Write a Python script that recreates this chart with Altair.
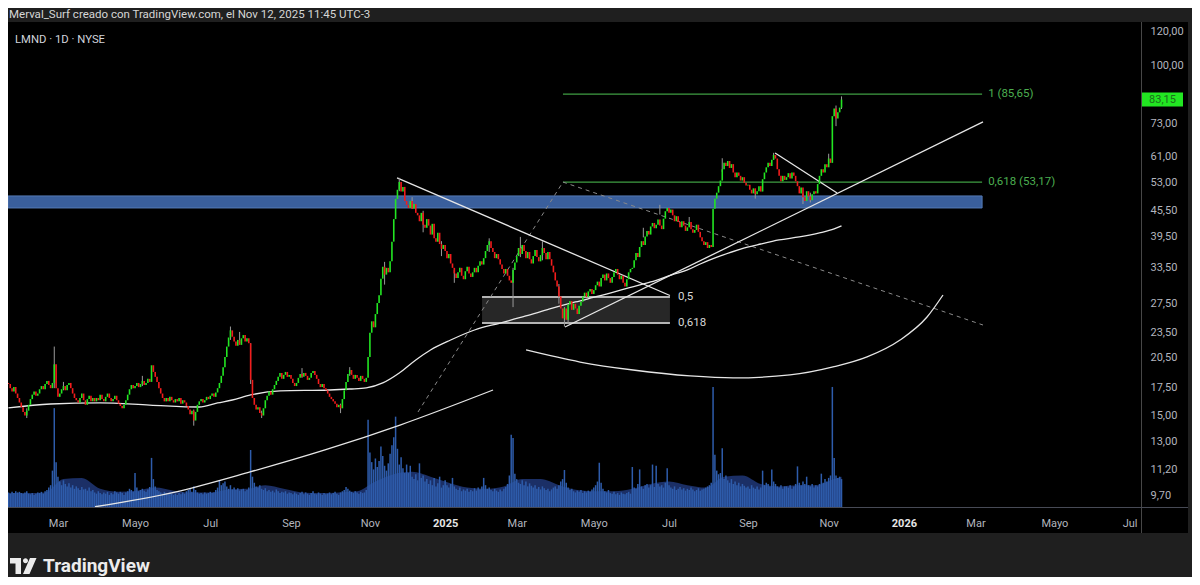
import altair as alt
import pandas as pd
import numpy as np

# ---------------- data ----------------
FIRST_SESSION = "2024-01-23"
CALENDAR_END = "2026-08-31"
NYSE_HOLIDAYS = ["2024-02-19", "2024-03-29", "2024-05-27", "2024-06-19", "2024-07-04",
                 "2024-09-02", "2024-11-28", "2024-12-25", "2025-01-01", "2025-01-09",
                 "2025-01-20", "2025-02-17", "2025-04-18", "2025-05-26", "2025-06-19",
                 "2025-07-04", "2025-09-01", "2025-11-27", "2025-12-25", "2026-01-01",
                 "2026-01-19", "2026-02-16", "2026-04-03", "2026-05-25", "2026-06-19",
                 "2026-07-03"]
MONTH_NAMES = {3: "Mar", 5: "Mayo", 7: "Jul", 9: "Sep", 11: "Nov"}

FIRST_OPEN = 17.9
close_2024 = [
    17.8, 17.4, 17.1, 17.5, 16.9, 16.5, 16.1,  # Jan
    15.7, 15.3, 15.0, 15.4, 15.9, 16.4, 16.8, 17.1, 16.7, 16.9, 17.3, 17.6, 17.3, 17.8, 18.1, 17.7, 17.4, 17.9, 19.8, 17.4,  # Feb
    16.6, 16.9, 17.3, 17.6, 17.2, 17.7, 17.9, 17.4, 16.9, 16.5, 16.3, 16.1, 16.5, 16.9, 16.3, 15.9, 16.4, 16.7, 16.2, 16.5,  # Mar
    16.2, 16.5, 16.3, 16.8, 16.4, 16.2, 16.6, 16.9, 16.5, 16.2, 16.4, 16.7, 16.3, 16.0, 15.8, 15.6, 15.9, 16.3, 16.8, 17.3, 17.7, 17.4,  # Apr
    17.6, 17.9, 17.5, 17.8, 18.1, 17.7, 17.9, 18.3, 18.0, 19.7, 19.0, 18.5, 18.0, 17.4, 16.9, 16.5, 16.2, 16.5, 16.2, 16.6, 16.3, 16.1,  # May
    16.4, 16.2, 16.5, 16.0, 16.3, 16.1, 15.8, 15.5, 15.1, 15.4, 14.6, 15.3, 15.9, 16.2, 16.4, 16.1, 16.3, 16.6, 16.4,  # Jun
    16.7, 16.9, 16.6, 17.0, 17.4, 17.9, 18.6, 19.5, 20.6, 21.8, 22.9, 23.8, 23.0, 22.4, 21.9, 22.6, 22.0, 22.8, 23.2, 22.4, 22.8, 22.2,  # Jul
    18.2, 16.5, 15.9, 15.5, 15.7, 15.2, 15.0, 15.6, 16.3, 16.7, 17.1, 16.8, 17.3, 17.7, 18.1, 18.5, 18.9, 18.3, 18.7, 19.0, 18.5, 18.7,  # Aug
    18.3, 17.9, 17.6, 17.9, 18.4, 18.8, 18.5, 18.9, 18.6, 18.2, 18.4, 18.9, 19.1, 18.7, 18.3, 17.8, 17.5, 17.8, 17.4, 17.2,  # Sep
    16.9, 16.6, 16.4, 16.2, 16.0, 15.7, 15.9, 15.6, 16.4, 17.2, 18.0, 18.8, 19.2, 18.7, 18.3, 18.7, 18.4, 18.1, 18.6, 18.3, 18.0, 18.4, 20.6,  # Oct
    23.5, 25.0, 24.2, 26.0, 27.6, 28.8, 31.5, 33.6, 32.2, 33.4, 32.6, 34.6, 38.5, 43.5, 48.5, 51.0, 53.2, 50.5, 51.8, 48.0,  # Nov
    47.0, 46.2, 48.0, 46.0, 47.2, 45.0, 44.4, 43.0, 45.0, 42.2, 41.5, 43.5, 42.0, 40.0, 42.4, 39.2, 38.5, 40.4, 38.0, 37.0, 37.8,  # Dec
]
close_2025 = [
    36.6, 35.2, 36.0, 34.2, 33.4, 32.4, 31.6, 32.6, 33.4, 32.0, 31.4, 32.8, 33.6, 32.4, 31.8, 32.6, 33.4, 32.6, 33.8, 34.6,  # Jan
    34.0, 35.2, 36.6, 37.8, 38.6, 37.2, 36.4, 35.2, 36.0, 35.0, 34.0, 33.2, 32.4, 33.2, 32.0, 31.2, 30.8, 33.0, 34.4,  # Feb
    35.6, 37.2, 36.0, 37.8, 36.6, 35.2, 36.4, 35.0, 34.2, 35.6, 36.8, 35.4, 34.6, 35.8, 37.2, 36.2, 35.0, 36.4, 35.0, 33.8, 32.6,  # Mar
    31.2, 30.2, 28.6, 26.8, 25.4, 26.8, 25.2, 27.4, 27.9, 26.6, 27.5, 26.8, 26.0, 27.2, 27.8, 28.6, 29.2, 28.5, 29.4, 29.8, 29.0,  # Apr
    29.6, 30.4, 31.0, 30.2, 31.6, 32.2, 31.2, 32.4, 31.6, 30.8, 31.8, 32.6, 33.2, 32.2, 31.4, 32.0, 30.8, 30.2, 31.4, 32.6, 33.2,  # May
    33.4, 34.8, 36.2, 35.4, 37.4, 38.6, 37.8, 39.6, 40.8, 40.0, 41.8, 42.6, 41.4, 42.2, 43.4, 42.0, 41.2, 43.6, 45.4, 46.2,  # Jun
    45.0, 45.8, 44.4, 43.0, 44.2, 42.8, 41.6, 43.0, 42.0, 40.8, 41.6, 42.8, 41.2, 40.4, 41.0, 42.2, 40.6, 39.4, 38.6, 37.8, 38.4, 37.2,  # Jul
    37.8, 37.4, 46.0, 48.6, 50.2, 52.0, 53.6, 57.0, 59.0, 58.0, 59.6, 57.4, 58.6, 56.0, 54.6, 56.0, 55.0, 53.6, 54.6, 53.0, 52.2,  # Aug
    52.4, 51.0, 50.0, 51.4, 49.8, 50.6, 52.0, 50.5, 54.0, 56.0, 57.6, 59.0, 58.0, 60.0, 61.6, 60.4, 57.0, 55.0, 53.4, 55.0, 53.8,  # Sep
    54.6, 55.8, 54.2, 56.0, 55.0, 53.4, 52.0, 50.0, 51.6, 49.0, 48.0, 50.6, 49.2, 48.2, 49.8, 50.6, 50.0, 52.6, 55.0, 57.0, 56.0, 58.6, 57.6,  # Oct
    60.4, 59.0, 76.0, 79.2, 75.0, 77.6, 79.6, 83.15,  # Nov
]
volume_2024 = [
    2.4, 2.2, 2.5, 2.3, 2.6, 2.4, 2.5,
    2.3, 2.2, 2.4, 2.6, 2.2, 2.1, 2.3, 2.0, 2.2, 2.4, 2.3, 2.5, 2.2, 2.6, 2.8, 3.2, 3.6, 6.0, 16.3, 7.4,
    5.0, 4.2, 3.6, 4.4, 3.8, 3.4, 3.9, 3.2, 3.6, 3.0, 3.4, 3.1, 2.8, 3.3, 2.9, 3.0, 2.7, 3.2, 2.6, 2.8,
    2.4, 2.2, 2.6, 2.3, 2.1, 2.4, 2.2, 2.5, 2.0, 2.3, 2.1, 2.6, 2.4, 2.2, 2.5, 2.3, 2.0, 2.4, 2.6, 3.0, 2.8, 2.5,
    5.6, 3.2, 2.6, 2.8, 3.0, 2.7, 2.5, 2.9, 3.3, 8.1, 4.6, 3.4, 2.8, 2.6, 2.4, 2.2, 2.5, 2.3, 2.1, 2.4, 2.2, 2.0,
    2.2, 2.0, 2.3, 2.1, 2.4, 2.2, 2.6, 2.8, 3.0, 2.5, 3.4, 2.8, 2.4, 2.2, 2.3, 2.1, 2.4, 2.2, 2.3,
    2.5, 2.3, 2.4, 2.8, 3.2, 4.4, 3.6, 3.9, 4.2, 3.4, 3.0, 3.6, 2.9, 3.2, 2.8, 3.1, 2.7, 2.9, 3.0, 2.6, 2.8, 3.2,
    9.4, 5.0, 4.0, 3.4, 3.2, 3.6, 3.0, 2.8, 3.1, 2.6, 2.8, 2.5, 2.7, 2.4, 2.9, 2.6, 2.3, 2.5, 2.4, 2.6, 2.2, 2.4,
    2.3, 2.1, 2.4, 2.2, 2.0, 2.3, 2.5, 2.1, 2.4, 2.2, 2.0, 2.3, 2.6, 2.2, 2.1, 2.4, 2.2, 2.0, 2.3, 2.1,
    2.2, 2.4, 2.1, 2.3, 2.5, 2.2, 2.0, 2.4, 2.6, 2.8, 3.3, 3.0, 2.7, 2.5, 2.3, 2.6, 2.4, 2.2, 2.5, 2.3, 2.4, 2.8, 14.4,
    9.0, 7.4, 6.2, 8.0, 6.6, 7.6, 10.0, 8.4, 6.8, 6.0, 7.2, 8.8, 10.2, 11.5, 14.9, 9.6, 7.0, 8.2, 6.4, 5.6,
    7.0, 5.6, 6.8, 5.0, 4.6, 5.4, 4.4, 7.2, 4.8, 5.2, 4.2, 4.6, 3.8, 4.4, 3.6, 4.8, 3.4, 3.9, 5.0, 3.2, 3.6,
]
volume_2025 = [
    4.4, 3.6, 3.2, 3.8, 4.8, 3.4, 3.0, 2.8, 3.2, 2.6, 2.9, 2.7, 3.0, 2.5, 2.8, 2.6, 3.1, 2.7, 3.2, 2.9,
    3.4, 4.8, 3.6, 3.0, 3.2, 2.8, 2.6, 3.0, 2.7, 2.5, 2.9, 2.6, 3.0, 3.3, 3.8, 5.2, 11.9, 11.4, 5.5,
    4.6, 4.0, 3.8, 4.4, 3.6, 4.2, 3.4, 3.9, 3.5, 3.2, 3.6, 3.0, 3.3, 2.9, 3.4, 3.1, 2.8, 3.0, 2.6, 2.9, 3.2,
    3.4, 3.0, 3.6, 4.2, 4.6, 6.1, 4.0, 3.2, 2.8, 3.0, 2.6, 2.4, 2.7, 2.5, 2.8, 2.3, 2.6, 2.4, 2.7, 2.5, 2.9,
    3.2, 3.6, 4.2, 7.3, 4.0, 3.0, 2.6, 2.4, 2.8, 2.3, 2.2, 2.5, 2.1, 2.3, 2.0, 2.4, 2.2, 2.1, 2.3, 2.5, 2.2,
    6.6, 3.2, 3.0, 3.8, 6.2, 3.4, 3.0, 3.6, 3.8, 3.2, 3.6, 7.0, 3.3, 6.8, 3.8, 3.4, 3.6, 3.2, 4.0, 6.4,
    3.6, 3.2, 3.0, 3.4, 2.8, 3.0, 3.3, 2.9, 3.1, 2.7, 3.0, 2.8, 3.2, 2.9, 2.6, 2.8, 3.1, 2.7, 2.9, 3.0, 3.2, 3.4,
    3.6, 4.0, 19.8, 8.6, 6.0, 5.4, 5.6, 9.7, 4.6, 5.2, 4.4, 4.0, 4.6, 3.8, 4.2, 3.6, 4.0, 3.4, 3.8, 3.5, 3.2,
    3.4, 3.0, 3.6, 3.2, 3.0, 3.4, 2.9, 3.2, 6.0, 3.6, 4.0, 3.8, 3.4, 6.2, 4.2, 3.8, 3.4, 3.2, 3.6, 3.0, 3.4,
    3.4, 3.2, 3.6, 3.0, 3.4, 3.8, 6.7, 4.0, 3.6, 4.2, 3.8, 5.0, 3.6, 3.4, 3.8, 3.2, 3.6, 3.4, 3.8, 5.5, 4.0, 4.6, 4.2,
    4.8, 5.2, 19.8, 8.1, 5.2, 4.8, 5.0, 4.6,
]
# notable wicks (bar number, low, high)
wick_bar = [10, 25, 30, 73, 101, 121, 126, 132, 138, 160, 181, 186, 205, 213, 220, 226, 236, 243,
            262, 275, 279, 291, 300, 303, 305, 346, 355, 371, 389, 407, 417, 433, 437, 447, 451, 454]
wick_low = [14.8, 17.4, 17.2, 17.6, 14.2, 22.6, 22.2, 17.8, 14.8, 18.4, 15.2, 18.6, 30.5, 50.6, 46.0,
            40.5, 35.6, 30.8, 36.4, 27.0, 35.4, 34.8, 27.5, 24.3, 24.6, 39.4, 44.6, 42.0, 56.2, 48.6,
            60.0, 47.2, 47.6, 58.8, 72.0, 79.0]
wick_high = [15.6, 21.8, 18.0, 18.6, 15.5, 24.3, 23.6, 22.2, 15.4, 19.4, 16.0, 19.5, 34.5, 54.4, 49.0,
             45.5, 38.6, 33.0, 39.2, 33.4, 39.5, 38.6, 30.6, 27.0, 26.6, 41.5, 47.0, 44.0, 60.5, 51.2,
             62.3, 50.0, 50.2, 62.0, 80.5, 84.6]

# volume moving average (bar number, value)
vol_ma_bar = [0, 10, 20, 30, 40, 50, 60, 70, 80, 90, 100, 110, 120, 130, 140, 150, 160, 170, 180, 190,
              200, 210, 220, 230, 240, 250, 260, 270, 280, 290, 300, 310, 320, 330, 340, 350, 360, 370,
              380, 390, 400, 410, 420, 430, 440, 450, 454]
vol_ma_val = [2.3, 2.3, 2.4, 4.6, 4.8, 3.0, 2.5, 2.7, 3.2, 2.7, 2.4, 2.4, 2.9, 3.0, 3.6, 3.0, 2.4, 2.3, 2.4, 2.6,
              4.2, 5.4, 5.8, 5.0, 4.0, 3.2, 3.0, 3.4, 4.6, 4.6, 3.6, 2.8, 2.6, 2.6, 3.0, 3.8, 4.2, 3.6,
              3.2, 5.0, 5.2, 3.8, 3.4, 3.6, 3.6, 4.6, 5.0]

# price moving average (bar number, price)
ma_bar = [0, 23, 50, 77, 104, 114, 122, 132, 148, 175, 186, 195, 204, 213, 222, 230, 241, 254, 268, 282,
          295, 309, 322, 336, 350, 363, 370, 377, 388, 399, 410, 420, 431, 442, 450, 454]
ma_val = [15.63, 15.97, 16.06, 15.88, 15.71, 16.06, 16.32, 16.77, 17.14, 17.23, 17.32, 17.42, 17.90, 18.89,
          20.27, 21.40, 22.59, 23.85, 24.77, 25.73, 26.73, 27.76, 28.68, 29.79, 30.94, 32.31, 33.02, 34.11,
          35.63, 36.99, 38.01, 38.85, 39.49, 40.36, 41.24, 41.92]

# drawings (bar number, price)
trend_lines = {
    "nov24_top": ([211.8, 360.5], [54.4, 28.75]),
    "apr25_low": ([303.3, 531.1], [24.24, 73.65]),
    "sep25_top": ([417.8, 451.6], [62.25, 50.13]),
}
curve_lines = {
    "rising_arc": ([47.2, 90.8, 131.7, 172.5, 213.4, 264.1], [9.15, 9.91, 11.05, 12.45, 14.25, 17.23]),
    "bowl_arc": ([282.1, 311.5, 340.4, 371.5, 394.9, 425.9, 449.4, 467.9, 485.9, 500.6, 509.3],
                 [21.40, 20.05, 19.20, 18.59, 18.39, 18.69, 19.52, 20.61, 22.59, 25.59, 28.83]),
}
dashed_lines = {
    "fib_leg1": ([223.2, 302.2], [15.29, 53.17]),
    "fib_leg2": ([302.2, 531.1], [53.17, 24.50]),
}
fib_levels = [85.65, 53.17]
fib_labels = ["1 (85,65)", "0,618 (53,17)"]
fib_span = [302.2, 530.6]
fib_label_bar = 533.9

box_levels = [28.52, 24.77]
box_labels = ["0,5", "0,618"]
box_span = [258.1, 360.5]
box_label_bar = 364.9

zone_span = [-0.2, 530.6]
zone_prices = [46.21, 49.32]

price_ticks = [120, 100, 73, 61, 53, 45.5, 39.5, 33.5, 27.5, 23.5, 20.5, 17.5, 15, 13, 11.2, 9.7]
last_price = 83.15
last_price_text = "83,15"

header_text = "Merval_Surf creado con TradingView.com, el Nov 12, 2025 11:45 UTC-3"
ticker_text = "LMND · 1D · NYSE"
brand_text = "TradingView"

# ---------------- build tables ----------------
close = close_2024 + close_2025
volume = volume_2024 + volume_2025
n = min(len(close), len(volume))
close = close[:n]
opens = [FIRST_OPEN] + close[:-1]
candles = pd.DataFrame({"bar": range(n), "open": opens, "close": close, "vol": volume[:n]})
candles["dir"] = np.where(candles["close"] >= candles["open"], "up", "down")

sessions = pd.bdate_range(FIRST_SESSION, CALENDAR_END, freq="C", holidays=NYSE_HOLIDAYS)
cal = pd.DataFrame({"d": sessions, "bar": range(len(sessions))})
ticks = []
for (yr, mo), g in cal.groupby([cal.d.dt.year, cal.d.dt.month]):
    first = g.iloc[0]
    if first.d.day > 7:
        continue
    if mo == 1:
        ticks.append((int(first.bar), str(yr), True))
    elif mo in MONTH_NAMES:
        ticks.append((int(first.bar), MONTH_NAMES[mo], False))

XDOM = [-0.22, 617.2]
ticks = [t for t in ticks if XDOM[0] <= t[0] <= XDOM[1]]
label_expr = "''"
for b, lab, _ in reversed(ticks):
    label_expr = f"datum.value == {b} ? '{lab}' : {label_expr}"
year_test = " || ".join(f"datum.value == {b}" for b, _, y in ticks if y) or "false"

FONT = "Roboto"
xscale = alt.Scale(domain=XDOM, nice=False, zero=False, padding=0)
yscale = alt.Scale(type="log", domain=[9.138, 126.6], nice=False, padding=0)
vscale = alt.Scale(domain=[0, 80], nice=False, zero=True, padding=0)

xaxis = alt.Axis(values=[t[0] for t in ticks], labelExpr=label_expr, grid=False, ticks=False,
                 domain=False, title=None, labelFont=FONT, labelFontSize=11, labelPadding=10,
                 labelColor={"condition": {"test": year_test, "value": "#e6e6e6"}, "value": "#b2b5be"},
                 labelFontWeight={"condition": {"test": year_test, "value": "bold"}, "value": "normal"},
                 labelOverlap=False, zindex=2)
yaxis = alt.Axis(orient="right", values=price_ticks,
                 labelExpr="replace(format(datum.value, '.2f'), '.', ',')",
                 grid=False, ticks=False, domain=False, title=None, labelFont=FONT,
                 labelFontSize=11, labelColor="#b2b5be", labelPadding=9, labelOverlap=False,
                 labelBound=False, zindex=2)


def X(f):
    return alt.X(f, type="quantitative", scale=xscale, axis=xaxis)


def Y(f):
    return alt.Y(f, type="quantitative", scale=yscale, axis=yaxis)


def lines_df(d):
    rows = []
    for k, (bs, ps) in d.items():
        for i, (b, p) in enumerate(zip(bs, ps)):
            rows.append({"id": k, "ord": i, "bar": b, "price": p})
    return pd.DataFrame(rows)


one = pd.DataFrame({"a": [0]})

# ---------------- layers ----------------
bg = alt.Chart(one).mark_rect(color="#000000").encode(
    x=alt.value(0), x2=alt.value(1180), y=alt.value(0), y2=alt.value(511))

vma = pd.DataFrame({"bar": vol_ma_bar, "v": vol_ma_val})
vol_area = alt.Chart(vma).mark_area(color="#1b2f66", interpolate="monotone").encode(
    x=X("bar"), y=alt.Y("v:Q", scale=vscale, axis=None))
vol_bars = alt.Chart(candles).mark_bar(color="#2e5cab", size=1.5).encode(
    x=X("bar"), y=alt.Y("vol:Q", scale=vscale, axis=None))
vol_group = alt.layer(vol_area, vol_bars)

zone_df = pd.DataFrame({"b0": [zone_span[0]], "b1": [zone_span[1]], "p0": [zone_prices[0]], "p1": [zone_prices[1]]})
zone = alt.Chart(zone_df).mark_rect(color="#3a5f9c", stroke="#5479b5", strokeWidth=1).encode(
    x=X("b0"), x2="b1", y=Y("p0"), y2="p1")

box_df = pd.DataFrame({"b0": [box_span[0]], "b1": [box_span[1]], "p0": [box_levels[1]], "p1": [box_levels[0]]})
box = alt.Chart(box_df).mark_rect(color="#272727").encode(x=X("b0"), x2="b1", y=Y("p0"), y2="p1")
box_lv = pd.DataFrame({"b0": box_span[0], "b1": box_span[1], "p": box_levels, "label": box_labels,
                       "lb": box_label_bar})
box_rules = alt.Chart(box_lv).mark_rule(color="#b4b4b4", strokeWidth=2).encode(x=X("b0"), x2="b1", y=Y("p"))
box_text = alt.Chart(box_lv).mark_text(align="left", baseline="middle", font=FONT, fontSize=11.5,
                                       color="#d8d8d8").encode(x=X("lb"), y=Y("p"), text="label:N")

fib_df = pd.DataFrame({"b0": fib_span[0], "b1": fib_span[1], "p": fib_levels, "label": fib_labels,
                       "lb": fib_label_bar})
fib_rules = alt.Chart(fib_df).mark_rule(color="#3f9e43", strokeWidth=1.2).encode(x=X("b0"), x2="b1", y=Y("p"))
fib_text = alt.Chart(fib_df).mark_text(align="left", baseline="middle", font=FONT, fontSize=11.5,
                                       color="#4caf50").encode(x=X("lb"), y=Y("p"), text="label:N")

dash = alt.Chart(lines_df(dashed_lines)).mark_line(color="#8a8a8a", strokeWidth=1, strokeDash=[4, 4],
                                                    clip=True).encode(
    x=X("bar"), y=Y("price"), detail="id:N", order="ord:Q")
straight = alt.Chart(lines_df(trend_lines)).mark_line(color="#e6e6e6", strokeWidth=1.3, clip=True).encode(
    x=X("bar"), y=Y("price"), detail="id:N", order="ord:Q")
curves = alt.Chart(lines_df(curve_lines)).mark_line(color="#e6e6e6", strokeWidth=1.3, clip=True,
                                                     interpolate="monotone").encode(
    x=X("bar"), y=Y("price"), detail="id:N", order="ord:Q")
ma = alt.Chart(pd.DataFrame({"bar": ma_bar, "price": ma_val})).mark_line(
    color="#e8e8e8", strokeWidth=1.3, interpolate="monotone").encode(x=X("bar"), y=Y("price"))

wicks = alt.Chart(pd.DataFrame({"bar": wick_bar, "lo": wick_low, "hi": wick_high})).mark_rule(
    color="#9a9a9a", strokeWidth=1).encode(x=X("bar"), y=Y("lo"), y2="hi")
bodies = alt.Chart(candles).mark_bar(size=1.6).encode(
    x=X("bar"), y=Y("open"), y2="close",
    color=alt.Color("dir:N", scale=alt.Scale(domain=["up", "down"], range=["#22e622", "#f21c1c"]), legend=None))

lp = pd.DataFrame({"p": [last_price], "t": [last_price_text]})
lp_box = alt.Chart(lp).mark_rect(color="#22e622", yOffset=-7, y2Offset=7).encode(
    x=alt.value(1134), x2=alt.value(1175), y=Y("p"), y2="p")
lp_text = alt.Chart(lp).mark_text(align="center", baseline="middle", font=FONT, fontSize=11,
                                  color="#1d6e1d").encode(x=alt.value(1154.5), y=Y("p"), text="t:N")

price_group = alt.layer(zone, box, box_rules, fib_rules, dash, straight, curves, ma, wicks, bodies,
                        box_text, fib_text, lp_box, lp_text)

sep_v = alt.Chart(one).mark_rule(color="#474747", strokeWidth=1).encode(
    x=alt.value(1133.5), y=alt.value(0), y2=alt.value(511))
sep_h = alt.Chart(one).mark_rule(color="#474a55", strokeWidth=1).encode(
    x=alt.value(0), x2=alt.value(1180), y=alt.value(485.5))

header = alt.Chart(pd.DataFrame({"t": [header_text]})).mark_text(
    align="left", baseline="middle", font=FONT, fontSize=11.5, color="#d6d6d6").encode(
    x=alt.value(1), y=alt.value(-7), text="t:N")
ticker = alt.Chart(pd.DataFrame({"t": [ticker_text]})).mark_text(
    align="left", baseline="middle", font=FONT, fontSize=11.3, color="#d1d4dc").encode(
    x=alt.value(7), y=alt.value(18), text="t:N")
LOGO = ("M -1 -0.615 L -0.154 -0.615 L -0.154 0.615 L -0.577 0.615 L -0.577 -0.192 L -1 -0.192 Z "
        "M 0 -0.4 A 0.192 0.192 0 1 0 0.384 -0.4 A 0.192 0.192 0 1 0 0 -0.4 Z "
        "M 0.538 -0.615 L 1.04 -0.615 L 0.5 0.615 L 0 0.615 Z")
logo = alt.Chart(one).mark_point(shape=LOGO, filled=True, size=676, color="#ececec", opacity=1,
                                 strokeWidth=0).encode(x=alt.value(15), y=alt.value(544))
brand = alt.Chart(pd.DataFrame({"t": [brand_text]})).mark_text(
    align="left", baseline="middle", font=FONT, fontSize=19, fontWeight="bold", color="#ececec").encode(
    x=alt.value(35), y=alt.value(544), text="t:N")

chart = alt.layer(bg, vol_group, price_group, sep_v, sep_h, header, ticker, logo, brand).resolve_scale(
    y="independent"
).properties(
    width=1133, height=485,
    autosize=alt.AutoSizeParams(type="none"),
    padding={"left": 0, "top": 14, "right": 51, "bottom": 70},
    background="#1f1f1f",
).configure_view(fill="#000000", strokeWidth=0)

chart.save("out.html", embed_options={"renderer": "svg", "actions": False})
